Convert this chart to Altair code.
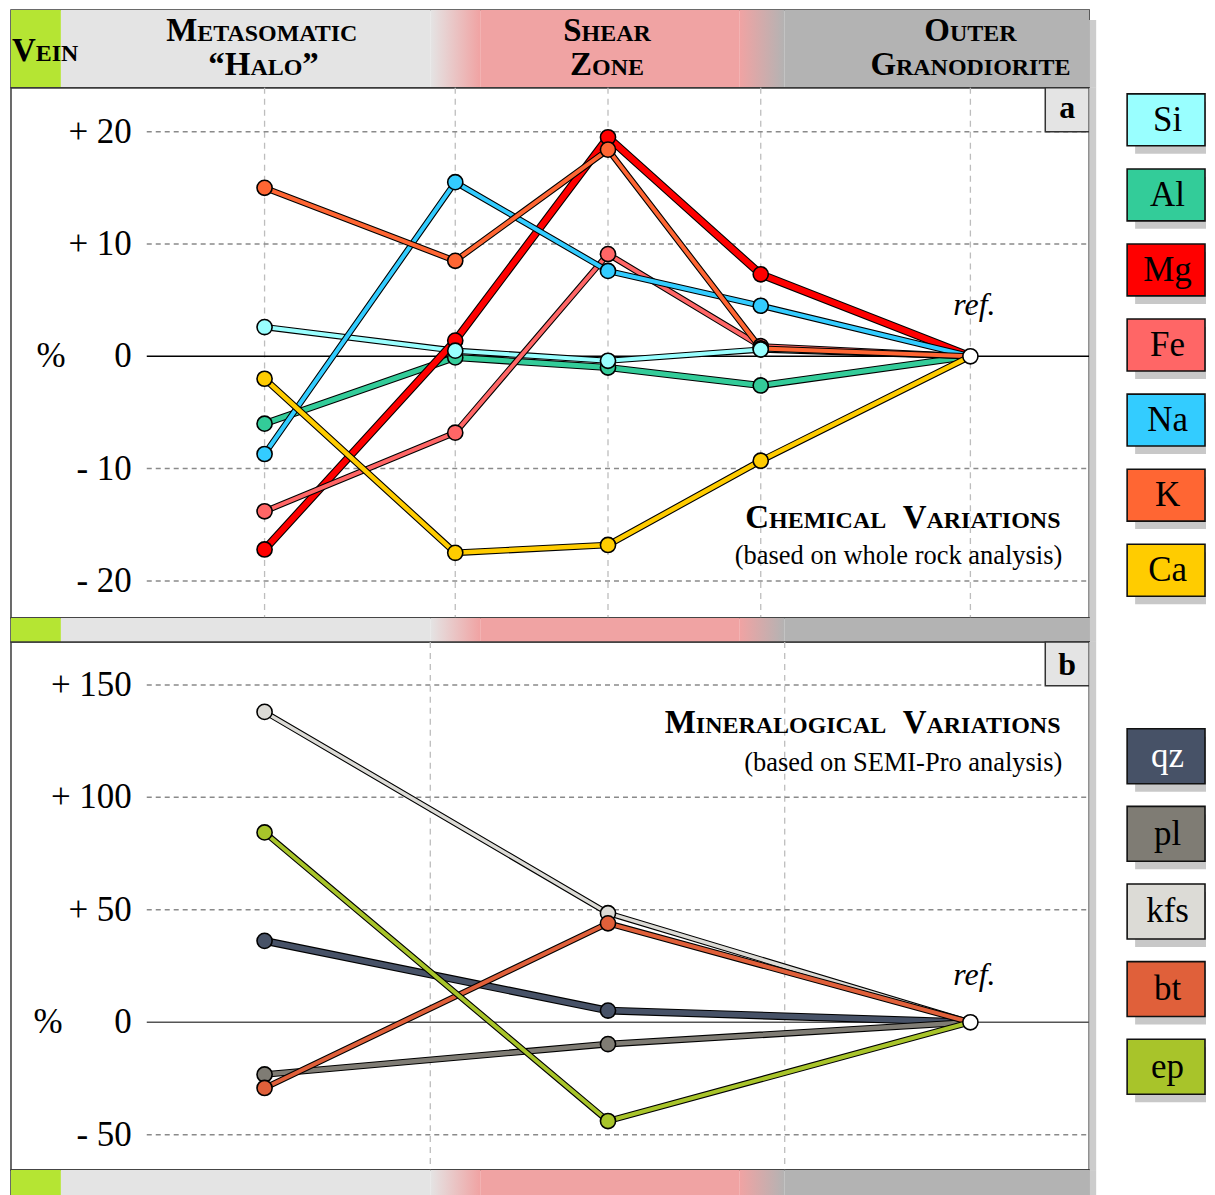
import altair as alt
import pandas as pd

# ---------------- values ----------------
positions_a = [254, 445, 598, 751, 961]      # sample positions along the profile (panel a)
positions_b = [254, 598, 961]                # sample positions (panel b)
ref_position = 961

elements = ["Si", "Al", "Mg", "Fe", "Na", "K", "Ca"]
element_colors = ["#99ffff", "#33cc99", "#ff0000", "#ff6666", "#33ccff", "#ff6633", "#ffcc00"]
element_text_colors = ["black"] * 7
si = [2.6, 0.5, -0.4, 0.6, 0]
al = [-6.0, -0.1, -1.0, -2.6, 0]
mg = [-17.2, 1.4, 19.5, 7.3, 0]
fe = [-13.8, -6.8, 9.1, 0.9, 0]
na = [-8.7, 15.5, 7.6, 4.5, 0]
k = [15.0, 8.5, 18.4, 0.7, 0]
ca = [-2.0, -17.5, -16.8, -9.3, 0]

minerals = ["qz", "pl", "kfs", "bt", "ep"]
mineral_colors = ["#475267", "#7f7c74", "#dcdbd6", "#e0603a", "#a8c42a"]
mineral_text_colors = ["white", "black", "black", "black", "black"]
qz = [36.2, 5.2, 0]
pl = [-23.2, -9.7, 0]
kfs = [138.0, 48.5, 0]
bt = [-29.2, 44.0, 0]
ep = [84.4, -43.9, 0]

ticks_a = [20, 10, 0, -10, -20]
tick_labels_a = ["+ 20", "+ 10", "0", "- 10", "- 20"]
ticks_b = [150, 100, 50, 0, -50]
tick_labels_b = ["+ 150", "+ 100", "+ 50", "0", "- 50"]

zone_starts = [0, 50, 470, 775]
zone_ends = [50, 420, 730, 1080]
zone_colors = ["#b5e533", "#e4e4e4", "#f0a3a3", "#b3b3b3"]
gradient_1 = [420, 470]
gradient_2 = [730, 775]
zone_bounds_b = [420, 775]

chem_values = {"Si": si, "Al": al, "Mg": mg, "Fe": fe, "Na": na, "K": k, "Ca": ca}
chem_widths = {"Si": 4.0, "Al": 5.0, "Mg": 6.0, "Fe": 4.0, "Na": 4.0, "K": 4.0, "Ca": 4.5}
chem_line_order = ["Si", "Al", "Mg", "Fe", "Na", "K", "Ca"]
chem_point_order = ["Al", "Mg", "Fe", "Na", "K", "Ca", "Si"]

min_values = {"qz": qz, "pl": pl, "kfs": kfs, "bt": bt, "ep": ep}
min_widths = {"qz": 5.5, "pl": 4.5, "kfs": 3.5, "bt": 4.0, "ep": 4.0}
min_line_order = ["qz", "pl", "kfs", "bt", "ep"]
min_point_order = ["qz", "pl", "kfs", "ep", "bt"]

# ---------------- layout ----------------
W = 1080
H_HEAD, H_A, H_BAND, H_B, H_BOT = 78, 531, 24, 529, 28
LEG_W = 117
SERIF = "Liberation Serif"
DOM_A = [-23.3, 23.9]
DOM_B = [-65.7, 169.1]
XS = alt.Scale(domain=[0, W], nice=False, zero=False)

# Times bold advance widths (per 1000 em) for small-caps layout
TB = {"A": 722, "B": 667, "C": 722, "D": 722, "E": 667, "F": 611, "G": 778, "H": 778,
      "I": 389, "J": 500, "K": 778, "L": 667, "M": 944, "N": 722, "O": 778, "P": 611,
      "Q": 778, "R": 722, "S": 556, "T": 667, "U": 722, "V": 722, "W": 1000, "X": 722,
      "Y": 722, "Z": 667, "\u201c": 500, "\u201d": 500}


def sc_pieces(text, anchor, y, align, big=33, small=24):
    pieces = []
    x = 0.0
    cur, cur_size, start = "", None, 0.0
    for ch in text:
        if ch == " ":
            if cur:
                pieces.append([start, cur, cur_size])
            cur, cur_size = "", None
            x += 250 * big / 1000
            continue
        size = small if ch.islower() else big
        c = ch.upper()
        if size != cur_size:
            if cur:
                pieces.append([start, cur, cur_size])
            cur, cur_size, start = "", size, x
        cur += c
        x += TB[c] * size / 1000
    if cur:
        pieces.append([start, cur, cur_size])
    total = x
    if align == "center":
        off = anchor - total / 2
    elif align == "right":
        off = anchor - total
    else:
        off = anchor
    return [{"x": p[0] + off, "y": y, "t": p[1], "s": p[2]} for p in pieces]


def sc_layer(rows, ys):
    return alt.Chart(pd.DataFrame(rows)).mark_text(
        font=SERIF, fontWeight="bold", align="left", baseline="alphabetic", color="black"
    ).encode(
        x=alt.X("x:Q", scale=XS, axis=None),
        y=alt.Y("y:Q", scale=ys, axis=None),
        text="t:N",
        size=alt.Size("s:Q", scale=None, legend=None),
    )


def grad(c0, c1):
    return alt.LinearGradient(
        gradient="linear",
        stops=[alt.GradientStop(color=c0, offset=0), alt.GradientStop(color=c1, offset=1)],
        x1=0, x2=1, y1=0, y2=0,
    )


def strip_layer(y0, h):
    # grey drop shadow along the right edge of the frame
    return alt.Chart(pd.DataFrame({"x0": [W], "x1": [W + 7]})).mark_rect(color="#cccccc").encode(
        x=alt.X("x0:Q", scale=XS, axis=None), x2="x1:Q", y=alt.value(y0), y2=alt.value(h))


def band_layers(h, strip_top=0):
    solid = alt.Chart(pd.DataFrame({"x0": zone_starts, "x1": zone_ends, "c": zone_colors})).mark_rect().encode(
        x=alt.X("x0:Q", scale=XS, axis=None), x2="x1:Q",
        y=alt.value(0), y2=alt.value(h),
        color=alt.Color("c:N", scale=None, legend=None),
    )
    g1 = alt.Chart(pd.DataFrame({"x0": [gradient_1[0]], "x1": [gradient_1[1]]})).mark_rect(
        color=grad(zone_colors[1], zone_colors[2])
    ).encode(x=alt.X("x0:Q", scale=XS, axis=None), x2="x1:Q", y=alt.value(0), y2=alt.value(h))
    g2 = alt.Chart(pd.DataFrame({"x0": [gradient_2[0]], "x1": [gradient_2[1]]})).mark_rect(
        color=grad(zone_colors[2], zone_colors[3])
    ).encode(x=alt.X("x0:Q", scale=XS, axis=None), x2="x1:Q", y=alt.value(0), y2=alt.value(h))
    return [solid, g1, g2, strip_layer(strip_top, h)]


def legend_layers(labels, fills, tcs, first_top, step, box_h, height):
    yl = alt.Scale(domain=[0, height], nice=False, zero=False, reverse=True)
    n = len(labels)
    tops = [first_top + i * step for i in range(n)]
    df = pd.DataFrame({
        "label": labels, "fill": fills, "tc": tcs,
        "top": tops, "bot": [t + box_h for t in tops], "mid": [t + box_h / 2 for t in tops],
        "stop": [t + 8 for t in tops], "sbot": [t + box_h + 8 for t in tops],
        "x0": [W + 38] * n, "x1": [W + LEG_W - 1] * n,
        "sx0": [W + 46] * n, "sx1": [W + LEG_W] * n, "cx": [W + 78.5] * n,
    })
    shadow = alt.Chart(df).mark_rect(color="#c8c8c8").encode(
        x=alt.X("sx0:Q", scale=XS, axis=None), x2="sx1:Q", y=alt.Y("stop:Q", scale=yl, axis=None), y2="sbot:Q")
    boxes = alt.Chart(df).mark_rect(stroke="#111111", strokeWidth=1.6).encode(
        x=alt.X("x0:Q", scale=XS, axis=None), x2="x1:Q", y=alt.Y("top:Q", scale=yl, axis=None), y2="bot:Q",
        color=alt.Color("fill:N", scale=None, legend=None))
    texts = alt.Chart(df).mark_text(font=SERIF, fontSize=35, align="center", baseline="middle").encode(
        x=alt.X("cx:Q", scale=XS, axis=None), y=alt.Y("mid:Q", scale=yl, axis=None), text="label:N",
        color=alt.Color("tc:N", scale=None, legend=None))
    return [shadow, boxes, texts]


# ---------------- header ----------------
ys_h = alt.Scale(domain=[0, H_HEAD], nice=False, zero=False, reverse=True)
head_rows = []
head_rows += sc_pieces("Vein", 1, 51, "left")
head_rows += sc_pieces("Metasomatic", 253, 31, "center")
head_rows += sc_pieces("\u201cHalo\u201d", 253, 65, "center")
head_rows += sc_pieces("Shear", 597, 31, "center")
head_rows += sc_pieces("Zone", 597, 65, "center")
head_rows += sc_pieces("Outer", 961, 31, "center")
head_rows += sc_pieces("Granodiorite", 961, 65, "center")
header = alt.layer(*band_layers(H_HEAD, strip_top=10), sc_layer(head_rows, ys_h)).properties(width=W, height=H_HEAD)

band_mid = alt.layer(*band_layers(H_BAND)).properties(width=W, height=H_BAND)
band_bot = alt.layer(*band_layers(H_BOT)).properties(width=W, height=H_BOT)


# ---------------- panels ----------------
def panel(values, colors_map, widths, line_order, point_order, positions, ydom, height,
          ticks, labels, vgrid, zero_color, pct_x, ref_y, title, sub, title_y, sub_y,
          letter, box_bottom, letter_y, legend):
    xs = XS
    ys = alt.Scale(domain=ydom, nice=False, zero=False)
    layers = []
    # vertical dashed grid
    layers.append(alt.Chart(pd.DataFrame({"x": vgrid})).mark_rule(
        color="#bdbdbd", strokeWidth=1.3, strokeDash=[6, 5]
    ).encode(x=alt.X("x:Q", scale=xs, axis=None), y=alt.value(0), y2=alt.value(height)))
    # horizontal dashed grid
    grid_vals = [t for t in ticks if t != 0]
    layers.append(alt.Chart(pd.DataFrame({"y": grid_vals, "x0": [136] * len(grid_vals), "x1": [W] * len(grid_vals)})).mark_rule(
        color="#8a8a8a", strokeWidth=1.5, strokeDash=[5, 4]
    ).encode(x=alt.X("x0:Q", scale=xs, axis=None), x2="x1:Q", y=alt.Y("y:Q", scale=ys, axis=None)))
    # zero line
    layers.append(alt.Chart(pd.DataFrame({"y": [0], "x0": [136], "x1": [W]})).mark_rule(
        color=zero_color, strokeWidth=1.4
    ).encode(x=alt.X("x0:Q", scale=xs, axis=None), x2="x1:Q", y=alt.Y("y:Q", scale=ys, axis=None)))
    # tick labels
    layers.append(alt.Chart(pd.DataFrame({"y": ticks, "t": labels, "x": [121] * len(ticks)})).mark_text(
        font=SERIF, fontSize=35, align="right", baseline="middle", color="black"
    ).encode(x=alt.X("x:Q", scale=xs, axis=None), y=alt.Y("y:Q", scale=ys, axis=None), text="t:N"))
    layers.append(alt.Chart(pd.DataFrame({"y": [0], "x": [pct_x], "t": ["%"]})).mark_text(
        font=SERIF, fontSize=35, align="center", baseline="middle", color="black"
    ).encode(x=alt.X("x:Q", scale=xs, axis=None), y=alt.Y("y:Q", scale=ys, axis=None), text="t:N"))
    # series lines (casing + colour)
    for name in line_order:
        df = pd.DataFrame({"x": positions, "y": values[name]})
        w = widths[name]
        layers.append(alt.Chart(df).mark_line(color="black", strokeWidth=w + 2.2, strokeJoin="round", strokeCap="round").encode(
            x=alt.X("x:Q", scale=xs, axis=None), y=alt.Y("y:Q", scale=ys, axis=None)))
        layers.append(alt.Chart(df).mark_line(color=colors_map[name], strokeWidth=w, strokeJoin="round", strokeCap="round").encode(
            x=alt.X("x:Q", scale=xs, axis=None), y=alt.Y("y:Q", scale=ys, axis=None)))
    # points
    px, py, pc = [], [], []
    for name in point_order:
        for xv, yv in zip(positions, values[name]):
            if xv != ref_position:
                px.append(xv); py.append(yv); pc.append(colors_map[name])
    layers.append(alt.Chart(pd.DataFrame({"x": px, "y": py, "c": pc})).mark_circle(
        size=230, opacity=1, stroke="black", strokeWidth=1.6
    ).encode(x=alt.X("x:Q", scale=xs, axis=None), y=alt.Y("y:Q", scale=ys, axis=None),
             color=alt.Color("c:N", scale=None, legend=None)))
    layers.append(alt.Chart(pd.DataFrame({"x": [ref_position], "y": [0]})).mark_circle(
        size=230, opacity=1, color="white", stroke="black", strokeWidth=1.6
    ).encode(x=alt.X("x:Q", scale=xs, axis=None), y=alt.Y("y:Q", scale=ys, axis=None)))
    # annotations
    layers.append(alt.Chart(pd.DataFrame({"x": [ref_position + 4], "y": [ref_y], "t": ["ref."]})).mark_text(
        font=SERIF, fontSize=32, fontStyle="italic", align="center", baseline="alphabetic", color="black"
    ).encode(x=alt.X("x:Q", scale=xs, axis=None), y=alt.Y("y:Q", scale=ys, axis=None), text="t:N"))
    layers.append(sc_layer(sc_pieces(title, 1053, title_y, "right"), ys))
    layers.append(alt.Chart(pd.DataFrame({"x": [1053], "y": [sub_y], "t": [sub]})).mark_text(
        font=SERIF, fontSize=26.5, align="right", baseline="alphabetic", color="black"
    ).encode(x=alt.X("x:Q", scale=xs, axis=None), y=alt.Y("y:Q", scale=ys, axis=None), text="t:N"))
    layers.append(alt.Chart(pd.DataFrame({"x0": [1036], "x1": [W], "y0": [box_bottom], "y1": [ydom[1]]})).mark_rect(
        color="#e4e4e4", stroke="#333333", strokeWidth=1.5
    ).encode(x=alt.X("x0:Q", scale=xs, axis=None), x2="x1:Q", y=alt.Y("y0:Q", scale=ys, axis=None), y2="y1:Q"))
    layers.append(alt.Chart(pd.DataFrame({"x": [1058], "y": [letter_y], "t": [letter]})).mark_text(
        font=SERIF, fontSize=32, fontWeight="bold", align="center", baseline="alphabetic", color="black"
    ).encode(x=alt.X("x:Q", scale=xs, axis=None), y=alt.Y("y:Q", scale=ys, axis=None), text="t:N"))
    layers.append(strip_layer(0, height))
    layers += legend
    return alt.layer(*layers).resolve_scale(y="independent").properties(width=W, height=height)


legend_a = legend_layers(elements, element_colors, element_text_colors, 6, 75.2, 52, H_A)
legend_b = legend_layers(minerals, mineral_colors, mineral_text_colors, 87, 77.75, 55, H_B)

panel_a = panel(chem_values, dict(zip(elements, element_colors)), chem_widths, chem_line_order, chem_point_order,
                positions_a, DOM_A, H_A, ticks_a, tick_labels_a, positions_a, "#000000", 40, 3.7,
                "Chemical  Variations", "(based on whole rock analysis)", -15.3, -18.5, "a", 20.0, 21.2, legend_a)
panel_b = panel(min_values, dict(zip(minerals, mineral_colors)), min_widths, min_line_order, min_point_order,
                positions_b, DOM_B, H_B, ticks_b, tick_labels_b, zone_bounds_b, "#555555", 37, 16.4,
                "Mineralogical  Variations", "(based on SEMI-Pro analysis)", 128.7, 111.8, "b", 149.6, 154.5, legend_b)

chart = alt.vconcat(header, panel_a, band_mid, panel_b, band_bot, spacing=0, bounds="flush").properties(
    padding={"left": 2, "top": 0, "right": 0, "bottom": 0}, background="white"
).configure_view(stroke="#3a3a3a", strokeWidth=1.5)

chart.save("out.html", embed_options={"renderer": "svg", "actions": False})
